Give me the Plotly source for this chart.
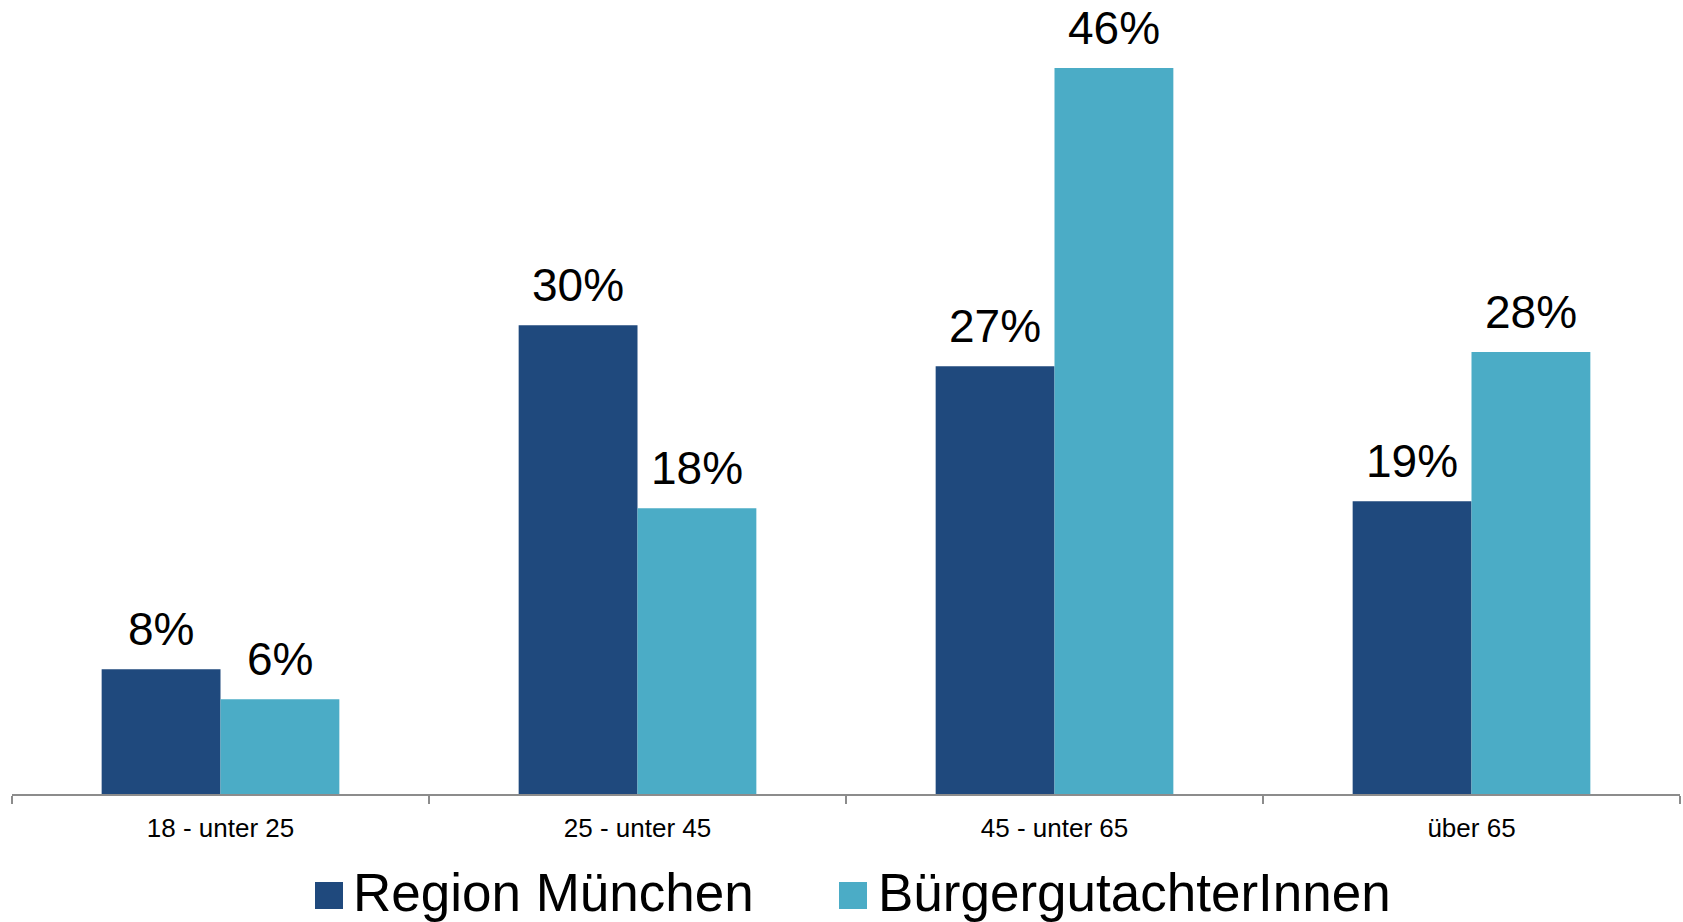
import plotly.graph_objects as go

categories = ["18 - unter 25", "25 - unter 45", "45 - unter 65", "über 65"]
series_names = ["Region München", "BürgergutachterInnen"]
# values (labels are rounded to whole percent)
region_muenchen = [7.9, 29.7, 27.1, 18.55]
buergergutachter = [6.0, 18.1, 46.0, 28.0]
colors = ["#1F497D", "#4BACC6"]

W, H = 1683, 922
ML, MR, MT, MB = 12, 3, 0, 128
PW = W - ML - MR
PH = H - MT - MB
YMAX = 50.3
BARGAP = 0.43
FONT = "Liberation Sans, Arial, sans-serif"

series_values = [region_muenchen, buergergutachter]
n_series = len(series_values)
cat_px = PW / len(categories)
bar_px = cat_px * (1 - BARGAP) / n_series

fig = go.Figure()
annotations = []
for i, (name, vals, col) in enumerate(zip(series_names, series_values, colors)):
    fig.add_trace(go.Bar(
        x=categories, y=vals, name=name,
        marker=dict(color=col, line=dict(width=0)),
        showlegend=False, hoverinfo="x+y+name",
    ))
    shift = (i - (n_series - 1) / 2) * bar_px
    for c, v in zip(categories, vals):
        annotations.append(dict(
            x=c, y=v, xref="x", yref="y", text=f"{v:.0f}%", showarrow=False,
            xanchor="center", yanchor="bottom", xshift=shift, yshift=12,
            font=dict(family=FONT, size=46, color="#000000"),
        ))

# custom legend (large square swatches)
def px_x(p):
    return (p - ML) / PW

def px_y(p):
    return (MT + PH - p) / PH

legend_items = [(315, 351), (839, 876)]
shapes = []
for (sx, tx), name, col in zip(legend_items, series_names, colors):
    shapes.append(dict(type="rect", xref="paper", yref="paper",
                       x0=px_x(sx), x1=px_x(sx + 28), y0=px_y(882), y1=px_y(909),
                       fillcolor=col, line=dict(width=0)))
    annotations.append(dict(xref="paper", yref="paper", x=px_x(tx), y=px_y(892),
                            xanchor="left", yanchor="middle", showarrow=False,
                            text=name,
                            font=dict(family=FONT, size=53, color="#000000")))

fig.update_layout(
    width=W, height=H,
    margin=dict(l=ML, r=MR, t=MT, b=MB),
    paper_bgcolor="white", plot_bgcolor="white",
    barmode="group", bargap=BARGAP, bargroupgap=0,
    shapes=shapes, annotations=annotations,
    xaxis=dict(
        type="category", range=[-0.5, 3.5],
        showline=True, linecolor="#8C8C8C", linewidth=2,
        ticks="outside", tickson="boundaries", ticklen=8, tickwidth=2, tickcolor="#8C8C8C",
        ticklabelstandoff=10,
        tickfont=dict(family=FONT, size=26, color="#000000"),
        showgrid=False, zeroline=False, fixedrange=True,
    ),
    yaxis=dict(range=[0, YMAX], visible=False, showgrid=False, zeroline=False, fixedrange=True),
)

fig.write_html(
    "out.html",
    config={"displayModeBar": False},
    post_script="document.body.style.margin='0';document.body.style.overflow='hidden';",
)
